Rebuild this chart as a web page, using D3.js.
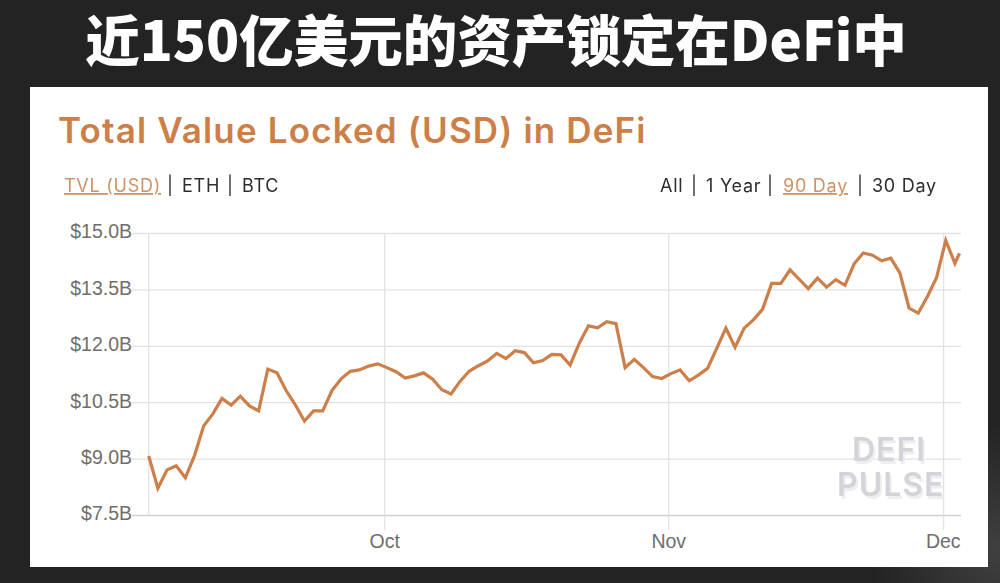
<!DOCTYPE html>
<html>
<head>
<meta charset="utf-8">
<script src="https://cdn.jsdelivr.net/npm/d3@7"></script>
<style>
	html, body { margin: 0; padding: 0; background: #232323; overflow: hidden; }
	svg { display: block; }
	.tabs { opacity: 0.99; }
	.tab { font-family: Inter, sans-serif; font-size: 18px; letter-spacing: 0.75px; fill: #2b2b2b; }
	.tab.active { fill: #cf9163; text-decoration: underline; }
	.axis text { font-family: "Liberation Sans", Arial, sans-serif; font-size: 19.5px; fill: #6e6e6e; }
	.axis .domain { display: none; }
</style>
</head>
<body>
<script>
// TVL readings in $B, one a day from early September, the last one is a part day
const tvl = [
	9.07, 8.21, 8.70, 8.81, 8.49, 9.08, 9.87, 10.19, 10.60, 10.42,
	10.66, 10.40, 10.27, 11.38, 11.28, 10.81, 10.43, 10.00, 10.27, 10.27,
	10.81, 11.12, 11.32, 11.36, 11.46, 11.52, 11.42, 11.31, 11.14, 11.20,
	11.28, 11.11, 10.83, 10.72, 11.06, 11.33, 11.47, 11.60, 11.80, 11.66,
	11.87, 11.82, 11.55, 11.61, 11.77, 11.76, 11.49, 12.07, 12.53, 12.48,
	12.64, 12.59, 11.42, 11.64, 11.42, 11.18, 11.13, 11.26, 11.36, 11.07,
	11.22, 11.40, 11.93, 12.47, 11.96, 12.47, 12.69, 12.97, 13.66, 13.66,
	14.02, 13.77, 13.52, 13.80, 13.56, 13.76, 13.61, 14.18, 14.47, 14.41,
	14.26, 14.33, 13.93, 13.00, 12.87, 13.31, 13.82, 14.80, 14.19, 14.46
];
const yTicks = [7.5, 9, 10.5, 12, 13.5, 15];
const xTicks = [new Date(Date.UTC(2020, 9, 1)), new Date(Date.UTC(2020, 10, 1)), new Date(Date.UTC(2020, 11, 1))];
const xTickLabels = ["Oct", "Nov", "Dec"];
const firstDay = new Date(Date.UTC(2020, 8, 5, 7));
const lastStamp = new Date(Date.UTC(2020, 11, 2, 19));

const dates = tvl.map((v, i) => i === tvl.length - 1 ? lastStamp : d3.utcDay.offset(firstDay, i));

const orange = "#cc7f48";

let svg = d3.select("body").append("svg")
	.attr("width", 1000)
	.attr("height", 583);

// The photo of the slide gets lighter towards the bottom right corner
let glow = svg.append("defs").append("radialGradient")
	.attr("id", "glow")
	.attr("gradientUnits", "userSpaceOnUse")
	.attr("cx", 1000)
	.attr("cy", 550)
	.attr("r", 130);
glow.append("stop").attr("offset", 0).attr("stop-color", "#404040");
glow.append("stop").attr("offset", 1).attr("stop-color", "#232323");

svg.append("rect")
	.attr("width", 1000)
	.attr("height", 583)
	.attr("fill", "url(#glow)");

// Slide heading on the dark background
svg.append("text")
	.attr("x", 496)
	.attr("y", 61)
	.attr("text-anchor", "middle")
	.style("font-family", '"Noto Sans CJK SC", sans-serif')
	.style("font-weight", 900)
	.style("font-size", "54.5px")
	.style("fill", "#fff")
	.text("近150亿美元的资产锁定在DeFi中");

// White card
svg.append("rect")
	.attr("x", 30)
	.attr("y", 87)
	.attr("width", 958)
	.attr("height", 480)
	.attr("fill", "#fff");

svg.append("text")
	.attr("x", 58)
	.attr("y", 143)
	.style("font-family", "Inter, sans-serif")
	.style("font-weight", 600)
	.style("font-size", "35px")
	.style("letter-spacing", "1.15px")
	.style("fill", orange)
	.text("Total Value Locked (USD) in DeFi");

// The two rows of tabs
const tabs = [
	["TVL (USD)", 64, true], ["|", 167, false], ["ETH", 182, false], ["|", 227, false], ["BTC", 242, false],
	["All", 660, false], ["|", 691, false], ["1 Year", 706, false], ["|", 767, false],
	["90 Day", 783, true], ["|", 857, false], ["30 Day", 872, false]
];
svg.append("g")
	.attr("class", "tabs")
	.selectAll(".tab")
	.data(tabs)
	.enter().append("text")
	.attr("class", d => d[2] ? "tab active" : "tab")
	.attr("x", d => d[1])
	.attr("y", 192)
	.text(d => d[0]);

// Scales
let x = d3.scaleUtc()
	.domain([firstDay, lastStamp])
	.range([148.7, 959.5]);
let y = d3.scaleLinear()
	.domain([7.5, 15])
	.range([515, 233]);

// Value axis, the long ticks are the gridlines
let yAxis = svg.append("g")
	.attr("class", "axis")
	.attr("transform", "translate(961,0)")
	.call(d3.axisLeft(y)
		.tickValues(yTicks)
		.tickSize(829)
		.tickPadding(0)
		.tickFormat(d => "$" + d.toFixed(1) + "B"));
yAxis.selectAll("line").attr("stroke", "#e2e2e2").attr("stroke-width", 1.3);
yAxis.selectAll("text").attr("dy", "0.25em");
yAxis.selectAll(".tick").filter(d => d === 7.5).select("line").attr("stroke", "#d0d0d4").attr("stroke-width", 1.6);

// Left edge of the plot
svg.append("line")
	.attr("x1", x(firstDay))
	.attr("x2", x(firstDay))
	.attr("y1", y(15))
	.attr("y2", y(7.5))
	.attr("stroke", "#e2e2e2")
	.attr("stroke-width", 1.3);

// Time axis, ticks run up to the top of the plot and a bit below it
let xAxis = svg.append("g")
	.attr("class", "axis")
	.attr("transform", "translate(0,530)")
	.call(d3.axisBottom(x)
		.tickValues(xTicks)
		.tickSize(-297)
		.tickPadding(2)
		.tickFormat((d, i) => xTickLabels[i]));
xAxis.selectAll("line").attr("stroke", "#e2e2e2").attr("stroke-width", 1.3);
xAxis.selectAll("text").attr("dy", "0.8em");
xAxis.selectAll(".tick").filter((d, i) => i === 2).select("text").attr("text-anchor", "end").attr("dx", 17);

// Watermark, two lines of one text
const watermark = [["DEFI", 852, 461], ["PULSE", 837, 496]];
svg.append("text")
	.style("font-family", "Inter, sans-serif")
	.style("font-weight", 600)
	.style("font-size", "32px")
	.style("letter-spacing", "1px")
	.style("fill", "#d3d3da")
	.style("filter", "drop-shadow(2px 3px 0 #eeeef1)")
	.selectAll("tspan")
	.data(watermark)
	.enter().append("tspan")
	.attr("x", d => d[1])
	.attr("y", d => d[2])
	.text(d => d[0]);

// The line itself
let line = d3.line()
	.x((d, i) => x(dates[i]))
	.y(d => y(d));

svg.append("path")
	.datum(tvl)
	.attr("d", line)
	.attr("fill", "none")
	.attr("stroke", orange)
	.attr("stroke-width", 3.2)
	.attr("stroke-linejoin", "miter");
</script>
</body>
</html>
